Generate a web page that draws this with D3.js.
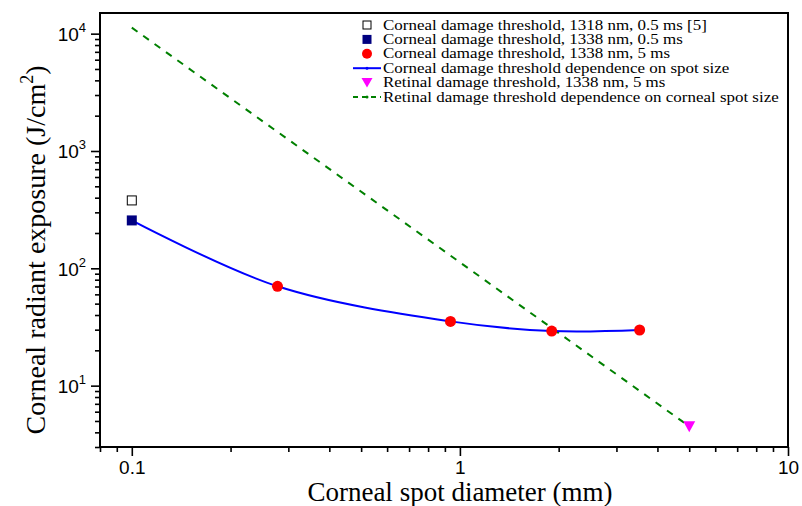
<!DOCTYPE html>
<html>
<head>
<meta charset="utf-8">
<script src="https://cdn.jsdelivr.net/npm/d3@7"></script>
<style>
  body { margin: 0; background: #fff; }
  svg { display: block; }
</style>
</head>
<body>
<svg id="chart"></svg>
<script>
// data
const openSqX = [0.1], openSqY = [379];          // 1318 nm, 0.5 ms [5]
const navySqX = [0.1], navySqY = [256];          // 1338 nm, 0.5 ms
const circleX = [0.278, 0.936, 1.905, 3.53];      // 1338 nm, 5 ms
const circleY = [70.3, 35.3, 29.2, 29.8];
const fitX = [0.1, 0.278, 0.936, 1.905, 3.53];    // corneal threshold curve
const fitY = [256, 70.3, 35.3, 29.2, 29.8];
const triX = [5], triY = [4.5];                   // retinal threshold
const retX = [0.1, 5], retY = [11250, 4.5];       // retinal dependence line

const xTicks = [0.1, 1, 10];
const yTicks = [10, 100, 1000, 10000];

const legendItems = [
  { label: "Corneal damage threshold, 1318 nm, 0.5 ms [5]", kind: "openSq" },
  { label: "Corneal damage threshold, 1338 nm, 0.5 ms", kind: "navySq" },
  { label: "Corneal damage threshold, 1338 nm, 5 ms", kind: "circle" },
  { label: "Corneal damage threshold dependence on spot size", kind: "blue" },
  { label: "Retinal damage threshold, 1338 nm, 5 ms", kind: "tri" },
  { label: "Retinal damage threshold dependence on corneal spot size", kind: "green" }
];

const width = 802, height = 506;
const margin = { left: 100, right: 14, top: 13, bottom: 59 };

const svg = d3.select("#chart").attr("width", width).attr("height", height);

const x = d3.scaleLog().domain([0.08, 10]).range([margin.left, width - margin.right]);
const y = d3.scaleLog().domain([3, 15000]).range([height - margin.bottom, margin.top]);

// minor ticks
const xMinor = [];
[0.01, 0.1, 1].forEach(b => { for (let k = 2; k <= 9; k++) xMinor.push(b * k); });
const yMinor = [];
[1, 10, 100, 1000, 10000].forEach(b => { for (let k = 2; k <= 9; k++) yMinor.push(b * k); });

const xAxis = svg.append("g")
  .attr("transform", `translate(0, ${height - margin.bottom})`)
  .call(d3.axisBottom(x).tickValues(xMinor.filter(v => v >= 0.08 && v <= 10)).tickSize(5).tickFormat(""));
xAxis.append("g")
  .call(d3.axisBottom(x).tickValues(xTicks).tickSize(9).tickPadding(5).tickFormat(d3.format("")));
const yAxis = svg.append("g")
  .attr("transform", `translate(${margin.left}, 0)`)
  .call(d3.axisLeft(y).tickValues(yMinor.filter(v => v >= 3 && v <= 15000)).tickSize(5).tickFormat(""));
const yMajor = yAxis.append("g")
  .call(d3.axisLeft(y).tickValues(yTicks).tickSize(9).tickPadding(6).tickFormat(""));

svg.selectAll(".domain").remove();
svg.selectAll(".tick line").attr("stroke", "#000").attr("stroke-width", 1.6);
xAxis.selectAll("text")
  .attr("font-family", "Liberation Sans, Arial, sans-serif")
  .attr("font-size", 19).attr("fill", "#000");

// y labels with superscripts
yMajor.selectAll(".tick").each(function(d) {
  const t = d3.select(this).append("text")
    .attr("x", -14).attr("y", 7)
    .attr("text-anchor", "end")
    .attr("font-family", "Liberation Sans, Arial, sans-serif")
    .attr("font-size", 19).attr("fill", "#000");
  t.append("tspan").text("10");
  t.append("tspan").attr("dy", -9).attr("font-size", 13).text(Math.round(Math.log10(d)));
});

// frame
svg.append("rect")
  .attr("x", margin.left).attr("y", margin.top)
  .attr("width", width - margin.left - margin.right)
  .attr("height", height - margin.top - margin.bottom)
  .attr("fill", "none").attr("stroke", "#000").attr("stroke-width", 2);

// axis titles
svg.append("text")
  .attr("x", 460).attr("y", 501)
  .attr("text-anchor", "middle")
  .attr("font-family", "Liberation Serif, Times New Roman, serif")
  .attr("font-size", 27)
  .text("Corneal spot diameter (mm)");

const yt = svg.append("text")
  .attr("transform", `translate(45, ${(margin.top + height - margin.bottom) / 2 + 20}) rotate(-90)`)
  .attr("text-anchor", "middle")
  .attr("font-family", "Liberation Serif, Times New Roman, serif")
  .attr("font-size", 28);
yt.append("tspan").text("Corneal radiant exposure (J/cm");
yt.append("tspan").attr("dy", -12).attr("font-size", 18).text("2");
yt.append("tspan").attr("dy", 12).text(")");

// lines
const line = d3.line().x(d => x(d[0])).y(d => y(d[1]));

svg.append("path")
  .datum(retX.map((v, i) => [v, retY[i]]))
  .attr("fill", "none").attr("stroke", "#008000").attr("stroke-width", 2)
  .attr("stroke-dasharray", "7,7")
  .attr("d", line);

svg.append("path")
  .datum(fitX.map((v, i) => [v, fitY[i]]))
  .attr("fill", "none").attr("stroke", "#0000ff").attr("stroke-width", 2)
  .attr("d", line.curve(d3.curveCatmullRom.alpha(0.5)));

// markers
svg.selectAll(".open-sq")
  .data(openSqX.map((v, i) => [v, openSqY[i]]))
  .join("rect")
  .attr("x", d => x(d[0]) - 4.5).attr("y", d => y(d[1]) - 4.5)
  .attr("width", 9).attr("height", 9)
  .attr("fill", "#fff").attr("stroke", "#000").attr("stroke-width", 1);

svg.selectAll(".navy-sq")
  .data(navySqX.map((v, i) => [v, navySqY[i]]))
  .join("rect")
  .attr("x", d => x(d[0]) - 5).attr("y", d => y(d[1]) - 5)
  .attr("width", 10).attr("height", 10)
  .attr("fill", "#000080");

svg.selectAll(".circ")
  .data(circleX.map((v, i) => [v, circleY[i]]))
  .join("circle")
  .attr("cx", d => x(d[0])).attr("cy", d => y(d[1]))
  .attr("r", 5.5).attr("fill", "#ff0000");

const triPath = "M-6,-5L6,-5L0,6Z";
svg.selectAll(".tri")
  .data(triX.map((v, i) => [v, triY[i]]))
  .join("path")
  .attr("transform", d => `translate(${x(d[0])}, ${y(d[1])})`)
  .attr("d", triPath).attr("fill", "#ff00ff");

// legend
const lg = svg.append("g").attr("transform", "translate(367, 25)");
const rowH = 14.4;
legendItems.forEach((it, i) => {
  const g = lg.append("g").attr("transform", `translate(0, ${i * rowH})`);
  if (it.kind === "openSq") {
    g.append("rect").attr("x", -4).attr("y", -4).attr("width", 8).attr("height", 8)
      .attr("fill", "#fff").attr("stroke", "#000");
  } else if (it.kind === "navySq") {
    g.append("rect").attr("x", -4.5).attr("y", -4.5).attr("width", 9).attr("height", 9)
      .attr("fill", "#000080");
  } else if (it.kind === "circle") {
    g.append("circle").attr("r", 5).attr("fill", "#ff0000");
  } else if (it.kind === "tri") {
    g.append("path").attr("d", "M-5.5,-4.5L5.5,-4.5L0,5Z").attr("fill", "#ff00ff");
  } else if (it.kind === "blue") {
    g.append("line").attr("x1", -14).attr("x2", 14).attr("stroke", "#0000ff").attr("stroke-width", 2);
    g.append("circle").attr("r", 1.5).attr("fill", "#0000ff");
  } else if (it.kind === "green") {
    g.append("line").attr("x1", -14).attr("x2", 14).attr("stroke", "#008000").attr("stroke-width", 2)
      .attr("stroke-dasharray", "5,4");
    g.append("circle").attr("r", 1.5).attr("fill", "#008000");
  }
  // the source text is a little wider than Times at its height
  g.append("text").attr("transform", "translate(16, 4.5) scale(1.13, 1)")
    .attr("font-family", "Liberation Serif, Times New Roman, serif")
    .attr("font-size", 15)
    .text(it.label);
});
</script>
</body>
</html>
